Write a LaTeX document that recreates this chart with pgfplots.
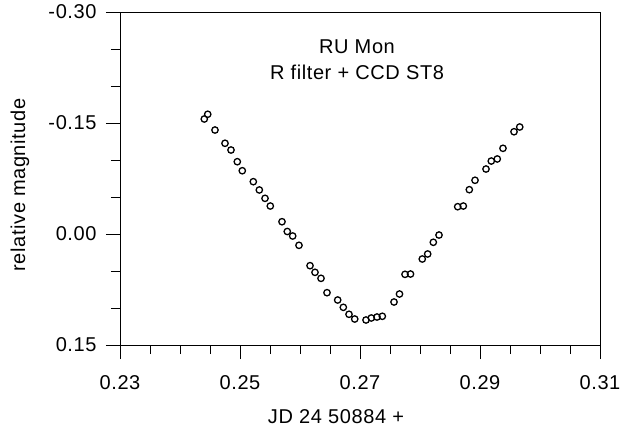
\documentclass[border=0pt]{standalone}
\usepackage{fontspec}
\setmainfont{Liberation Sans}[LetterSpace=3]
\usepackage{pgfplots}
\pgfplotsset{compat=1.18}

% light curve: JD fraction vs relative magnitude
\pgfplotstableread{
jd       mag
0.24405 -0.1554
0.24462 -0.1618
0.24583 -0.1405
0.24750 -0.1226
0.24850 -0.1135
0.24955 -0.0977
0.25038 -0.0855
0.25222 -0.0707
0.25322 -0.0595
0.25417 -0.0482
0.25505 -0.0378
0.25700 -0.0166
0.25788 -0.0034
0.25878  0.0027
0.25983  0.0153
0.26167  0.0428
0.26250  0.0518
0.26350  0.0599
0.26450  0.0793
0.26628  0.0892
0.26722  0.0991
0.26817  0.1085
0.26912  0.1149
0.27100  0.1162
0.27188  0.1135
0.27283  0.1122
0.27372  0.1112
0.27567  0.0919
0.27658  0.0811
0.27750  0.0545
0.27842  0.0541
0.28038  0.0338
0.28128  0.0270
0.28222  0.0112
0.28317  0.0014
0.28628 -0.0369
0.28722 -0.0378
0.28822 -0.0599
0.28917 -0.0726
0.29100 -0.0878
0.29188 -0.0986
0.29288 -0.1014
0.29383 -0.1158
0.29567 -0.1382
0.29662 -0.1446
}\lightcurve

\begin{document}
\begin{tikzpicture}[font=\fontsize{20bp}{24bp}\selectfont]
\useasboundingbox (0,0) rectangle (624bp,430bp);
\begin{axis}[
    at={(120bp,85bp)}, anchor=south west,
    scale only axis,
    width=480bp, height=333bp,
    xmin=0.23, xmax=0.31,
    ymin=-0.30, ymax=0.15,
    y dir=reverse,
    xtick={0.23,0.25,0.27,0.29,0.31},
    xticklabels={0.23,0.25,0.27,0.29,0.31},
    minor x tick num=3,
    ytick={-0.30,-0.15,0,0.15},
    yticklabels={-0.30,-0.15,0.00,0.15},
    minor y tick num=2,
    xtick pos=bottom, ytick pos=left,
    tick align=outside,
    major tick length=14bp,
    minor tick length=9bp,
    every tick/.style={black, line width=0.8bp},
    axis line style={line width=0.8bp},
    tick label style={font=\fontsize{20bp}{24bp}\selectfont},
    xticklabel style={anchor=base, yshift=-30bp},
    yticklabel style={anchor=east, xshift=-6bp},
    clip=false,
]
\addplot[only marks, mark=o, mark size=3.2bp, mark options={line width=1.3bp, black}]
    table[x=jd, y=mag] {\lightcurve};
\end{axis}
\node[anchor=base] at (357bp,376bp) {RU Mon};
\node[anchor=base] at (357bp,350bp) {R filter + CCD ST8};
\node[anchor=base, rotate=90] at (25bp,245bp) {relative magnitude};
\node[anchor=base] at (336bp,7bp) {JD 24 50884 +};
\end{tikzpicture}
\end{document}
